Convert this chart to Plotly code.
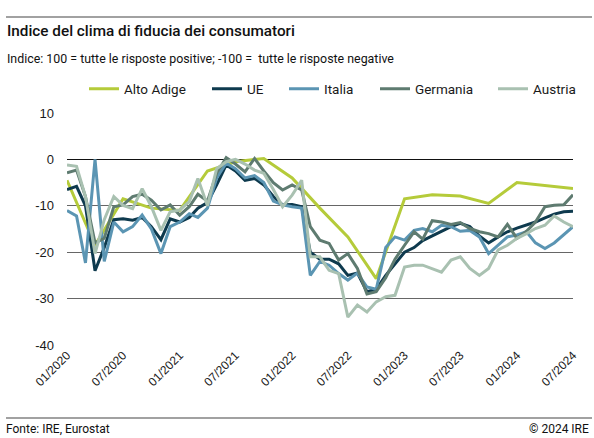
import plotly.graph_objects as go
import pandas as pd

# ---------------- data ----------------
months = pd.date_range("2020-01-01", "2024-07-01", freq="MS").strftime("%Y-%m-%d").tolist()

ue = [-6.5, -5.8, -10, -24, -19, -13, -12.8, -13.1, -12.5, -14.5,
      -17.3, -12.8, -13.5, -12.5, -10.5, -9.3, -5.5, -1.2, -2.5, -4.5,
      -4.1, -5.5, -8, -9.8, -9.7, -10.2, -20, -21.5, -21.5, -22.5,
      -25, -24.5, -28.5, -28, -25, -22.5, -20, -19, -17.5, -16.5,
      -15.5, -14.5, -13.8, -14.5, -16.5, -18, -16.7, -15.6, -14.8, -14.2,
      -13.5, -12.6, -11.8, -11.3, -11.2]

italia = [-11, -12.2, -22.3, 0, -22, -13.5, -15.6, -14.5, -12, -15,
          -20.3, -14.5, -13.5, -11.7, -12.5, -10.5, -4, -0.8, -2, -4,
          -3.5, -5, -9, -9.8, -10.2, -10.5, -25, -22, -22.8, -24.6,
          -26, -24.5, -27.5, -28, -19, -16.7, -17.4, -15.3, -14.9, -15.6,
          -14.2, -14.5, -15.5, -15.3, -16.7, -20.3, -18.5, -16.7, -16.3, -15.6,
          -18, -19.2, -18, -16.3, -14.5]

germania = [-2.9, -2.3, -8, -18, -17, -10.2, -9.8, -8, -7.5, -8.8,
            -10.9, -9.8, -12, -10.2, -7.5, -9, -3, 0.4, -1, -2.7,
            0.2, -2.5, -5, -6.6, -5.5, -6.6, -14.5, -17.4, -18.1, -21.7,
            -20.3, -23.5, -29, -28.5, -25.5, -21.5, -18.5, -15.6, -17.2, -13.2,
            -13.5, -14, -13.6, -14.9, -15.6, -16, -16.7, -14, -17, -15.5,
            -13.5, -10.2, -9.9, -9.8, -7.6]

austria = [-1.2, -1.5, -8, -20.3, -13, -8, -9.9, -10.6, -6.3, -10.2,
           -15.3, -11.3, -10.9, -9.1, -4.1, -10, -2, -0.5, 0, -1,
           -2.3, -3, -6.5, -10.2, -7.7, -4.5, -21, -21, -23.9, -24.6,
           -34, -31.4, -32.9, -30.7, -29.6, -29.3, -23.2, -22.8, -22.8, -23.5,
           -24.3, -21.7, -21, -23.5, -25, -23.5, -19.5, -18.5, -17, -16,
           -14.9, -14.2, -12.2, -13.5, -14.5]

alto_adige_dates = ["2020-01-01", "2020-04-01", "2020-07-01", "2020-10-01",
                    "2021-01-01", "2021-04-01", "2021-07-01", "2021-10-01",
                    "2022-01-01", "2022-04-01", "2022-07-01", "2022-10-01",
                    "2023-01-01", "2023-04-01", "2023-07-01", "2023-10-01",
                    "2024-01-01", "2024-04-01", "2024-07-01"]
alto_adige = [-4.5, -18.5, -8.5, -10.5, -11, -2.5, -0.5, 0.2, -4, -10.5,
              -16.7, -25.7, -8.5, -7.6, -7.9, -9.5, -5, -5.6, -6.3]

tick_dates = ["2020-01-01", "2020-07-01", "2021-01-01", "2021-07-01", "2022-01-01",
              "2022-07-01", "2023-01-01", "2023-07-01", "2024-01-01", "2024-07-01"]
tick_labels = ["01/2020", "07/2020", "01/2021", "07/2021", "01/2022",
               "07/2022", "01/2023", "07/2023", "01/2024", "07/2024"]
y_ticks = [10, 0, -10, -20, -30, -40]
y_labels = ["10", "0", "-10", "-20", "-30", "-40"]

title = "Indice del clima di fiducia dei consumatori"
subtitle = "Indice: 100 = tutte le risposte positive; -100 =  tutte le risposte negative"
source = "Fonte: IRE, Eurostat"
copyright_txt = "© 2024 IRE"

# ---------------- style ----------------
COND = "Roboto, Lato, sans-serif"
REG = "Liberation Sans, Arial, sans-serif"
colors = {"Alto Adige": "#b5cb3a", "UE": "#0e3a4e", "Italia": "#5b95b3",
          "Germania": "#5e7b70", "Austria": "#a9c1b1"}
legend_left_px = {"Alto Adige": 84, "UE": 207, "Italia": 284, "Germania": 375, "Austria": 493}

W, H = 594, 438
L, R, T, B = 67, 21, 113, 93
pw, ph = W - L - R, H - T - B


def px_x(px):
    return (px - L) / pw


def px_y(py):
    return (H - B - py) / ph


fig = go.Figure()
series = [("Alto Adige", alto_adige_dates, alto_adige),
          ("UE", months, ue),
          ("Italia", months, italia),
          ("Germania", months, germania),
          ("Austria", months, austria)]
legend_layout = {}
for i, (name, xs, ys) in enumerate(series):
    key = "legend" if i == 0 else f"legend{i + 1}"
    fig.add_trace(go.Scatter(x=xs, y=ys, mode="lines", name=name, legend=key,
                             line=dict(color=colors[name], width=3),
                             hoverinfo="skip"))
    legend_layout[key] = dict(orientation="h", x=px_x(legend_left_px[name]), xanchor="left",
                              y=px_y(89), yanchor="middle",
                              font=dict(family=COND, size=13.5, color="#1a1a1a"),
                              itemwidth=30, bgcolor="rgba(0,0,0,0)")

fig.update_layout(
    width=W, height=H,
    margin=dict(l=L, r=R, t=T, b=B),
    paper_bgcolor="white", plot_bgcolor="white",
    showlegend=True,
    xaxis=dict(type="date", range=["2020-01-01", "2024-07-01"],
               tickvals=tick_dates, ticktext=tick_labels, tickangle=-45,
               showgrid=False, zeroline=False, showline=False, ticks="",
               tickfont=dict(family=REG, size=12, color="#1a1a1a")),
    yaxis=dict(range=[-40, 10], tickvals=y_ticks, ticktext=y_labels,
               showgrid=True, gridcolor="#666666", gridwidth=1,
               zeroline=True, zerolinecolor="#111111", zerolinewidth=1.3,
               showline=False, ticks="", ticklabelstandoff=12,
               tickfont=dict(family=REG, size=13, color="#1a1a1a")),
    **legend_layout,
)

# title, subtitle, footer
fig.add_annotation(text=title, xref="paper", yref="paper", x=px_x(5), y=px_y(31),
                   xanchor="left", yanchor="middle", showarrow=False,
                   font=dict(family=COND, size=15.3, color="#111111", weight=500))
fig.add_annotation(text=subtitle, xref="paper", yref="paper", x=px_x(5), y=px_y(58),
                   xanchor="left", yanchor="middle", showarrow=False,
                   font=dict(family=COND, size=12.4, color="#111111"))
fig.add_annotation(text=source, xref="paper", yref="paper", x=px_x(4), y=px_y(429),
                   xanchor="left", yanchor="middle", showarrow=False,
                   font=dict(family=COND, size=12, color="#111111"))
fig.add_annotation(text=copyright_txt, xref="paper", yref="paper", x=px_x(591), y=px_y(429),
                   xanchor="right", yanchor="middle", showarrow=False,
                   font=dict(family=COND, size=12, color="#111111"))

fig.add_shape(type="line", xref="paper", yref="paper", x0=px_x(6), x1=px_x(592),
              y0=px_y(17), y1=px_y(17), line=dict(color="#444444", width=1.2))
fig.add_shape(type="line", xref="paper", yref="paper", x0=px_x(6), x1=px_x(592),
              y0=px_y(418), y1=px_y(418), line=dict(color="#444444", width=1.2))

fig.write_html("out.html", config={"displayModeBar": False},
               post_script="document.body.style.margin='0';")
